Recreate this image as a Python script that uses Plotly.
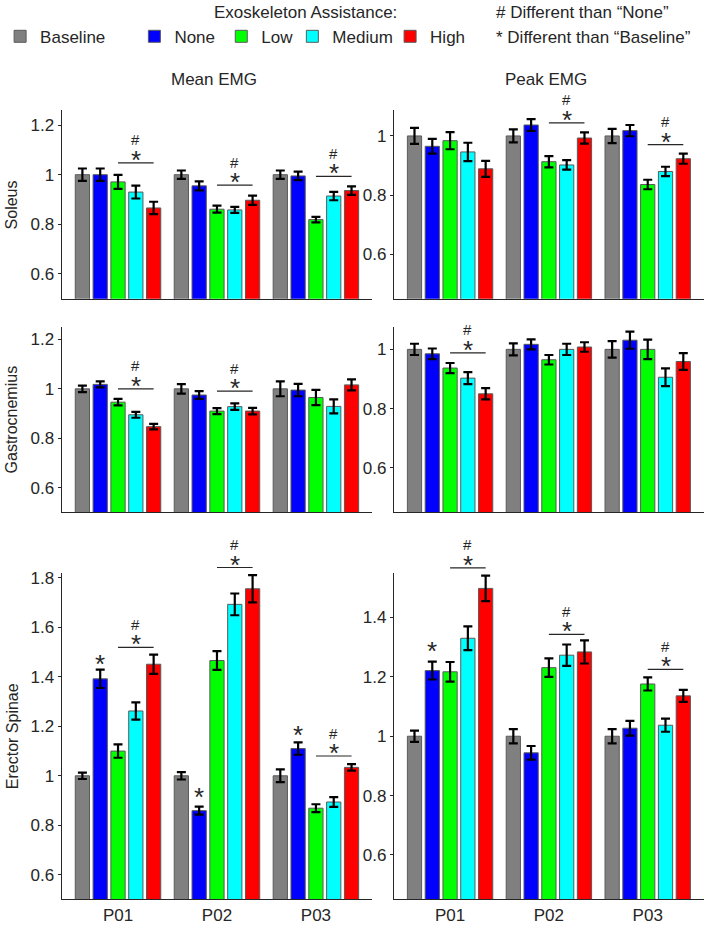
import plotly.graph_objects as go

# ---------------- data ----------------
participants = ["P01", "P02", "P03"]
conditions = ["Baseline", "None", "Low", "Medium", "High"]
colors = ["#808080", "#0000FF", "#00FF00", "#00FFFF", "#FF0000"]
x_pos = [1, 2, 3]

# values[condition][participant]  (condition order: Baseline, None, Low, Medium, High)
soleus_mean = [[1.0, 1.0, 1.0], [1.0, 0.955, 0.995], [0.971, 0.861, 0.819],
               [0.930, 0.858, 0.914], [0.866, 0.897, 0.936]]
soleus_mean_err = [[0.025, 0.017, 0.017], [0.025, 0.018, 0.017], [0.028, 0.014, 0.011],
                   [0.026, 0.012, 0.017], [0.025, 0.019, 0.017]]
soleus_peak = [[1.0, 1.0, 1.0], [0.965, 1.037, 1.018], [0.984, 0.913, 0.836],
               [0.946, 0.902, 0.880], [0.889, 0.993, 0.923]]
soleus_peak_err = [[0.027, 0.022, 0.024], [0.025, 0.020, 0.019], [0.029, 0.019, 0.016],
                   [0.031, 0.016, 0.016], [0.027, 0.019, 0.017]]
gastro_mean = [[1.0, 1.0, 1.0], [1.018, 0.975, 0.995], [0.946, 0.910, 0.965],
               [0.895, 0.928, 0.929], [0.847, 0.910, 1.016]]
gastro_mean_err = [[0.013, 0.019, 0.030], [0.012, 0.016, 0.025], [0.013, 0.012, 0.031],
                   [0.012, 0.013, 0.028], [0.011, 0.013, 0.022]]
gastro_peak = [[1.0, 1.0, 1.0], [0.985, 1.017, 1.031], [0.937, 0.965, 1.0],
               [0.903, 1.0, 0.906], [0.850, 1.008, 0.959]]
gastro_peak_err = [[0.019, 0.020, 0.028], [0.018, 0.017, 0.029], [0.017, 0.016, 0.033],
                   [0.020, 0.019, 0.030], [0.019, 0.016, 0.028]]
erector_mean = [[1.0, 1.0, 1.0], [1.392, 0.859, 1.110], [1.100, 1.466, 0.869],
                [1.262, 1.693, 0.894], [1.451, 1.756, 1.034]]
erector_mean_err = [[0.013, 0.015, 0.026], [0.037, 0.016, 0.025], [0.027, 0.038, 0.016],
                    [0.035, 0.044, 0.020], [0.039, 0.055, 0.013]]
erector_peak = [[1.0, 1.0, 1.0], [1.221, 0.944, 1.027], [1.217, 1.231, 1.176],
                [1.330, 1.273, 1.037], [1.498, 1.284, 1.136]]
erector_peak_err = [[0.019, 0.024, 0.024], [0.030, 0.023, 0.025], [0.033, 0.031, 0.022],
                    [0.040, 0.036, 0.022], [0.043, 0.039, 0.020]]

# significance brackets over Low..High (participant index, bracket level)
soleus_mean_sig = [(0, 1.048), (1, 0.958), (2, 0.993)]
soleus_peak_sig = [(1, 1.044), (2, 0.971)]
gastro_mean_sig = [(0, 1.000), (1, 0.991)]
gastro_peak_sig = [(0, 0.988)]
erector_mean_sig = [(0, 1.519), (1, 1.842), (2, 1.080)]
erector_peak_sig = [(0, 1.567), (1, 1.343), (2, 1.225)]
# single stars above "None" bars (participant index, star level)
erector_mean_star = [(0, 1.475), (1, 0.940), (2, 1.188)]
erector_peak_star = [(0, 1.306)]

muscles = ["Soleus", "Gastrocnemius", "Erector Spinae"]
col_titles = ["Mean EMG", "Peak EMG"]

# ---------------- layout geometry ----------------
W, H = 708, 925
x_domains = [[53.3 / W, 368.0 / W], [389.7 / W, 704.0 / W]]
y_px = [(107.0, 297.0), (325.0, 512.3), (573.3, 902.3)]
y_domains = [[1 - b / H, 1 - t / H] for (t, b) in y_px]
y_ranges = [[[0.5, 1.26], [0.45, 1.087]],
            [[0.5, 1.252], [0.45, 1.077]],
            [[0.5, 1.82], [0.45, 1.55]]]
x_range = [0.43, 3.57]

panels = [
    (0, 0, soleus_mean, soleus_mean_err, soleus_mean_sig, []),
    (0, 1, soleus_peak, soleus_peak_err, soleus_peak_sig, []),
    (1, 0, gastro_mean, gastro_mean_err, gastro_mean_sig, []),
    (1, 1, gastro_peak, gastro_peak_err, gastro_peak_sig, []),
    (2, 0, erector_mean, erector_mean_err, erector_mean_sig, erector_mean_star),
    (2, 1, erector_peak, erector_peak_err, erector_peak_sig, erector_peak_star),
]

FONT = "Arial, Liberation Sans, sans-serif"
TXT = "#262626"
BARGAP = 0.1
BARGROUPGAP = 0.2
slot = (1 - BARGAP) / len(conditions)

fig = go.Figure()
shapes = []
annotations = []
layout_axes = {}
legend_names = ["legend", "legend2", "legend3", "legend4", "legend5"]

for i, (r, c, vals, errs, sig, stars) in enumerate(panels):
    n = "" if i == 0 else str(i + 1)
    xa, ya = "x" + n, "y" + n
    lo, hi = y_ranges[r][c]
    for k, cond in enumerate(conditions):
        fig.add_trace(go.Bar(
            x=x_pos, y=vals[k], name=cond, xaxis=xa, yaxis=ya,
            marker=dict(color=colors[k], line=dict(color="#5a5a5a", width=1)),
            error_y=dict(type="data", array=errs[k], color="black", thickness=2.2, width=4.5),
            showlegend=(i == 0), legend=legend_names[k],
        ))
    layout_axes["xaxis" + n] = dict(
        domain=x_domains[c], range=x_range, anchor=ya, tickvals=x_pos, ticktext=participants,
        showticklabels=(r == 2), ticks="", showgrid=False, zeroline=False, showline=True,
        linecolor=TXT, linewidth=1, tickfont=dict(family=FONT, size=17, color=TXT), fixedrange=True)
    layout_axes["yaxis" + n] = dict(
        domain=y_domains[r], range=[lo, hi], anchor=xa, tick0=0, dtick=0.2,
        ticks="outside", ticklen=3, tickcolor=TXT, showgrid=False, zeroline=False,
        showline=True, linecolor=TXT, linewidth=1,
        tickfont=dict(family=FONT, size=17, color=TXT), fixedrange=True)

    def frac(v):
        return (v - lo) / (hi - lo)

    off_low = (2 - 2) * slot
    off_high = (4 - 2) * slot
    for g, lvl in sig:
        x0 = x_pos[g] + off_low
        x1 = x_pos[g] + off_high
        shapes.append(dict(type="line", xref=xa, yref=ya + " domain", x0=x0, x1=x1,
                           y0=frac(lvl), y1=frac(lvl), line=dict(color=TXT, width=1.2)))
        xm = (x0 + x1) / 2
        annotations.append(dict(text="*", xref=xa, yref=ya + " domain", x=xm, y=frac(lvl),
                                showarrow=False, yanchor="middle", yshift=3,
                                font=dict(family=FONT, size=26, color=TXT)))
        annotations.append(dict(text="#", xref=xa, yref=ya + " domain", x=xm, y=frac(lvl),
                                showarrow=False, yanchor="middle", yshift=23,
                                font=dict(family=FONT, size=15, color=TXT)))
    for g, lvl in stars:
        xs = x_pos[g] + (1 - 2) * slot
        annotations.append(dict(text="*", xref=xa, yref=ya + " domain", x=xs, y=frac(lvl),
                                showarrow=False, yanchor="middle", yshift=-6,
                                font=dict(family=FONT, size=26, color=TXT)))

TEXT_UP = 3  # small correction for text box centring
# column titles
for c, t in enumerate(col_titles):
    annotations.append(dict(text=t, xref="paper", yref="paper",
                            x=sum(x_domains[c]) / 2 - 3 / W, y=1 - (79 - TEXT_UP) / H,
                            showarrow=False, xanchor="center", yanchor="middle",
                            font=dict(family=FONT, size=17, color=TXT)))
# row (muscle) titles
for r, m in enumerate(muscles):
    annotations.append(dict(text=m, xref="paper", yref="paper", x=3 / W,
                            y=sum(y_domains[r]) / 2, showarrow=False, textangle=-90,
                            xanchor="center", yanchor="middle",
                            font=dict(family=FONT, size=16, color=TXT)))
# legend header and significance key
annotations.append(dict(text="Exoskeleton Assistance:", xref="paper", yref="paper",
                        x=300 / W, y=1 - (12 - TEXT_UP) / H, showarrow=False, xanchor="center",
                        yanchor="middle", font=dict(family=FONT, size=17, color=TXT)))
annotations.append(dict(text="# Different than \u201cNone\u201d", xref="paper", yref="paper",
                        x=491 / W, y=1 - (12 - TEXT_UP) / H, showarrow=False, xanchor="left",
                        yanchor="middle", font=dict(family=FONT, size=17, color=TXT)))
annotations.append(dict(text="* Different than \u201cBaseline\u201d", xref="paper", yref="paper",
                        x=491 / W, y=1 - (37 - TEXT_UP) / H, showarrow=False, xanchor="left",
                        yanchor="middle", font=dict(family=FONT, size=17, color=TXT)))

# legends: one per condition, positioned along the top row
legend_square_centers = [13, 149, 237, 309, 408]
legends = {}
for k, ln in enumerate(legend_names):
    legends[ln] = dict(x=(legend_square_centers[k] - 22) / W, y=1 - 33 / H,
                       xanchor="left", yanchor="middle", bgcolor="rgba(0,0,0,0)",
                       borderwidth=0, font=dict(family=FONT, size=17, color=TXT),
                       orientation="h")

fig.update_layout(
    width=W, height=H, autosize=False,
    margin=dict(l=0, r=0, t=0, b=0),
    paper_bgcolor="white", plot_bgcolor="white",
    barmode="group", bargap=BARGAP, bargroupgap=BARGROUPGAP,
    shapes=shapes, annotations=annotations,
    **layout_axes, **legends,
)

fig.write_html("out.html", config={"displayModeBar": False},
               post_script="document.body.style.margin='0';document.body.style.overflow='hidden';")
